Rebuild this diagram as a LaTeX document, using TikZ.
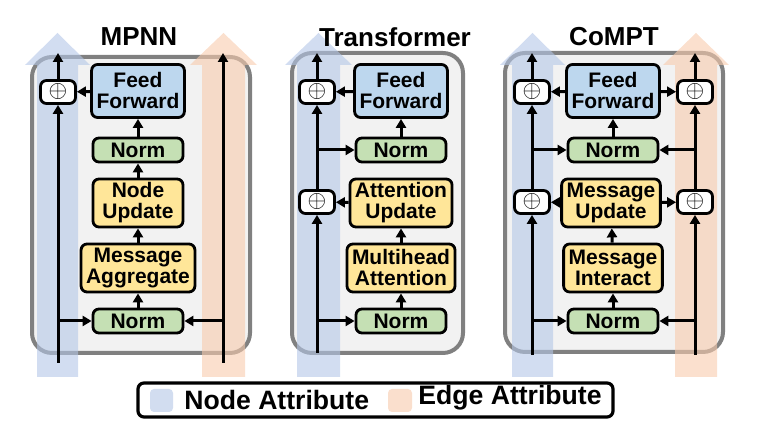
\documentclass[tikz,border=0pt]{standalone}
\usepackage{fontspec}
\setmainfont{Liberation Sans}
\usetikzlibrary{positioning,arrows.meta}

\definecolor{nodeblue}{HTML}{B4C7E7}
\definecolor{edgeorange}{HTML}{F8CBAD}
\definecolor{ffblue}{HTML}{BDD7EE}
\definecolor{updyellow}{HTML}{FFE699}
\definecolor{normgreen}{HTML}{C5E0B4}
\definecolor{framegray}{HTML}{F2F2F2}

\begin{document}
\begin{tikzpicture}[x=0.5pt,y=-0.5pt,
  blk/.style={draw,line width=1.4pt,rounded corners=3pt,align=center,
    font=\fontsize{10.5}{10.5}\selectfont\bfseries,inner xsep=2.5pt,inner ysep=1pt,
    minimum width=45pt},
  ffw/.style={blk,fill=ffblue,minimum height=26.5pt},
  nrm/.style={blk,fill=normgreen,minimum height=12pt},
  upd/.style={blk,fill=updyellow,minimum height=24pt},
  pls/.style={draw,line width=1.4pt,fill=white,rounded corners=3pt,
    minimum width=17.5pt,minimum height=11.5pt,inner sep=0pt,
    font=\fontsize{12}{12}\selectfont},
  lk/.style={-{Triangle[length=4.5pt,width=5pt]},line width=1.5pt},
  ttl/.style={font=\fontsize{13}{13}\selectfont\bfseries},
  frm/.style={draw=black!50,line width=2pt,fill=framegray,rounded corners=10pt},
  fat/.style={opacity=0.6}]

\useasboundingbox (0,0) rectangle (757,431);

% --- frames ---
\draw[frm] (32,57) rectangle (250,353);
\draw[frm] (292,53) rectangle (463,353);
\draw[frm] (505,53) rectangle (723,352);

% --- wide attribute arrows ---
\fill[nodeblue,fat] (37,377) -- (37,65) -- (25,65) -- (57.5,33) -- (90,65) -- (78,65) -- (78,377) -- cycle;
\fill[edgeorange,fat] (202,377) -- (202,65) -- (190,65) -- (223.5,33) -- (257,65) -- (245,65) -- (245,377) -- cycle;
\fill[nodeblue,fat] (297,377) -- (297,65) -- (285,65) -- (318.5,33) -- (352,65) -- (340,65) -- (340,377) -- cycle;
\fill[nodeblue,fat] (512,377) -- (512,65) -- (500,65) -- (532.5,33) -- (565,65) -- (553,65) -- (553,377) -- cycle;
\fill[edgeorange,fat] (675,377) -- (675,65) -- (663,65) -- (696,33) -- (729,65) -- (717,65) -- (717,377) -- cycle;

% --- MPNN ---
\node[ttl] (t1) at (139,37) {MPNN};
\node[ffw] (ff1) at (138,91) {Feed\\Forward};
\node[nrm] (na1) at (138,150) {Norm};
\node[upd] (up1) at (138,203) {Node\\Update};
\node[upd] (ag1) at (138,268) {Message\\Aggregate};
\node[nrm] (nb1) at (138,321) {Norm};
\node[pls] (p1) at (58,92) {$\oplus$};
\coordinate (l1s) at (58,363);
\coordinate (l1e) at (58,53);
\coordinate (r1s) at (223,363);
\coordinate (r1e) at (223,53);
\draw[lk] (l1s) -- (p1);
\draw[lk] (p1) -- (l1e);
\draw[lk] (r1s) -- (r1e);
\draw[lk] (ff1) -- (p1);
\draw[lk] (l1s |- nb1) -- (nb1);
\draw[lk] (r1s |- nb1) -- (nb1);
\draw[lk] (nb1) -- (ag1);
\draw[lk] (ag1) -- (up1);
\draw[lk] (up1) -- (na1);
\draw[lk] (na1) -- (ff1);

% --- Transformer ---
\node[ttl] (t2) at (395,37) {Transformer};
\node[ffw] (ff2) at (401,91) {Feed\\Forward};
\node[nrm] (na2) at (401,150) {Norm};
\node[upd] (up2) at (401,203) {Attention\\Update};
\node[upd] (ag2) at (401,268) {Multihead\\Attention};
\node[nrm] (nb2) at (401,321) {Norm};
\node[pls] (pa2) at (317,92) {$\oplus$};
\node[pls] (pb2) at (317,202) {$\oplus$};
\coordinate (l2s) at (317,353);
\coordinate (l2e) at (317,53);
\draw[lk] (l2s) -- (pb2);
\draw[lk] (pb2) -- (pa2);
\draw[lk] (pa2) -- (l2e);
\draw[lk] (ff2) -- (pa2);
\draw[lk] (up2) -- (pb2);
\draw[lk] (l2s |- nb2) -- (nb2);
\draw[lk] (l2s |- na2) -- (na2);
\draw[lk] (nb2) -- (ag2);
\draw[lk] (ag2) -- (up2);
\draw[lk] (na2) -- (ff2);

% --- CoMPT ---
\node[ttl] (t3) at (614,37) {CoMPT};
\node[ffw] (ff3) at (613,91) {Feed\\Forward};
\node[nrm] (na3) at (613,150) {Norm};
\node[upd] (up3) at (611,203) {Message\\Update};
\node[upd] (ag3) at (613,268) {Message\\Interact};
\node[nrm] (nb3) at (613,321) {Norm};
\node[pls] (pa3) at (532,92) {$\oplus$};
\node[pls] (pb3) at (532,202) {$\oplus$};
\node[pls] (qa3) at (695,92) {$\oplus$};
\node[pls] (qb3) at (695,202) {$\oplus$};
\coordinate (l3s) at (532,355);
\coordinate (l3e) at (532,53);
\coordinate (r3s) at (695,355);
\coordinate (r3e) at (695,53);
\draw[lk] (l3s) -- (pb3);
\draw[lk] (pb3) -- (pa3);
\draw[lk] (pa3) -- (l3e);
\draw[lk] (r3s) -- (qb3);
\draw[lk] (qb3) -- (qa3);
\draw[lk] (qa3) -- (r3e);
\draw[lk] (ff3) -- (pa3);
\draw[lk] (ff3) -- (qa3);
\draw[lk] (up3) -- (pb3);
\draw[lk] (up3) -- (qb3);
\draw[lk] (l3s |- nb3) -- (nb3);
\draw[lk] (r3s |- nb3) -- (nb3);
\draw[lk] (l3s |- na3) -- (na3);
\draw[lk] (r3s |- na3) -- (na3);
\draw[lk] (nb3) -- (ag3);
\draw[lk] (ag3) -- (up3);
\draw[lk] (na3) -- (ff3);

% --- legend ---
\draw[line width=1.6pt,rounded corners=3pt,fill=white] (138,383) rectangle (613,417);
\fill[nodeblue,fat,rounded corners=2pt] (150,389) rectangle (173,412);
\fill[edgeorange,fat,rounded corners=2pt] (388,389) rectangle (412,412);
\node[anchor=west,inner sep=0pt,font=\fontsize{13.3}{13.3}\selectfont\bfseries] (lg1) at (184,400) {Node Attribute};
\node[anchor=west,inner sep=0pt,font=\fontsize{13.3}{13.3}\selectfont\bfseries] (lg2) at (418,398) {Edge Attribute};
\end{tikzpicture}
\end{document}
